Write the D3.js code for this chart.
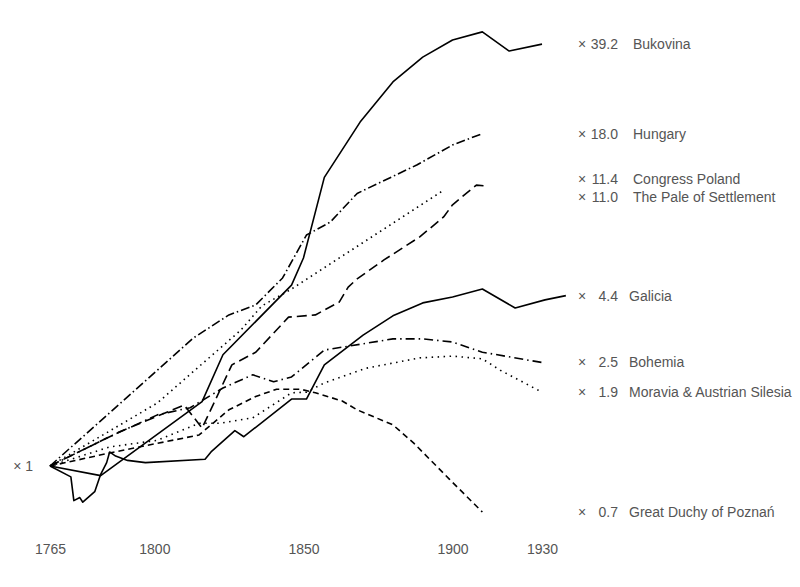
<!doctype html>
<html>
<head>
<meta charset="utf-8">
<script src="https://d3js.org/d3.v7.min.js"></script>
<style>
  body { margin: 0; background: #fff; }
  svg { font-family: "Liberation Sans", Arial, sans-serif; }
  .axis path.domain { stroke: none; }
  .axis text { font-size: 14px; fill: #555; }
  .label { font-size: 14px; fill: #555; }
</style>
</head>
<body>
<svg id="chart" width="800" height="587"></svg>
<script>
// growth of each region relative to 1765 (x 1 = 1765 level), [year, multiple]
var bukovina = [[1765,1],[1782,0.92],[1816,1.75],[1823,2.63],[1846,4.82],[1850,6.10],[1857,12.3],
  [1869,19.9],[1880,28.2],[1890,35.0],[1900,40.6],[1910,43.6],[1919,36.9],[1930,39.2]];
var hungary = [[1765,1],[1801,2.30],[1813,3.04],[1825,3.72],[1834,4.06],[1843,5.13],[1851,7.45],
  [1859,8.34],[1868,10.7],[1888,13.7],[1900,16.3],[1910,18.0]];
var congressPoland = [[1765,1],[1788,1.34],[1810,1.70],[1816,1.39],[1826,2.41],[1834,2.69],[1845,3.65],
  [1854,3.72],[1862,4.16],[1865,4.74],[1868,5.09],[1877,6.00],[1889,7.33],[1897,8.72],[1900,9.69],
  [1905,10.8],[1908,11.5],[1912,11.4]];
var pale = [[1765,1],[1801,1.73],[1829,3.26],[1836,4.02],[1846,4.66],[1897,11.0]];
var galicia = [[1765,1],[1772,0.91],[1773,0.74],[1775,0.76],[1776,0.73],[1780,0.80],[1782,0.93],
  [1784,1.03],[1785,1.13],[1787,1.09],[1791,1.05],[1797,1.03],[1817,1.06],[1819,1.13],[1827,1.36],
  [1830,1.29],[1846,1.79],[1851,1.79],[1857,2.41],[1870,3.12],[1880,3.69],[1890,4.13],[1900,4.35],
  [1910,4.66],[1921,3.95],[1931,4.24],[1938,4.4]];
var bohemia = [[1765,1],[1785,1.29],[1801,1.56],[1812,1.66],[1823,1.97],[1833,2.21],[1840,2.08],
  [1846,2.17],[1857,2.74],[1863,2.81],[1880,3.02],[1890,3.02],[1900,2.94],[1910,2.69],[1930,2.46]];
var moravia = [[1765,1],[1785,1.18],[1801,1.25],[1815,1.45],[1822,1.45],[1833,1.52],[1846,1.89],
  [1851,1.90],[1857,2.06],[1871,2.34],[1889,2.56],[1900,2.60],[1910,2.54],[1916,2.30],[1930,1.90]];
var poznan = [[1765,1],[1785,1.12],[1815,1.31],[1825,1.63],[1834,1.83],[1841,1.95],[1849,1.95],
  [1854,1.89],[1863,1.76],[1868,1.63],[1880,1.43],[1887,1.22],[1899,0.89],[1910,0.67]];

var regionNames = ["Bukovina", "Hungary", "Congress Poland", "The Pale of Settlement", "Galicia",
  "Bohemia", "Moravia & Austrian Silesia", "Great Duchy of Poznań"];
var xTicks = [1765, 1800, 1850, 1900, 1930];
var yTicks = [1];

var seriesData = [bukovina, hungary, congressPoland, pale, galicia, bohemia, moravia, poznan];
// line styles, same order as regionNames
var dashes = [null, "9,3,1.5,3", "10,5", "1.5,4", null, "9,4,1.5,4", "1.5,4.5", "6,4"];

var svg = d3.select("#chart");

var xScale = d3.scaleLinear().domain([1765, 1930]).range([50, 542]);
var yScale = d3.scaleLog().domain([1, 40]).range([466, 466 - 115 * Math.log(40)]);

var xAxis = d3.axisBottom(xScale).tickValues(xTicks).tickSize(0).tickPadding(8).tickFormat(d3.format("d"));
svg.append("g").attr("class", "axis").attr("transform", "translate(0,536)").call(xAxis);

var yAxis = d3.axisLeft(yScale).tickValues(yTicks).tickSize(0).tickPadding(3).tickFormat(d => "× " + d);
svg.append("g").attr("class", "axis").attr("transform", "translate(36,0)").call(yAxis);

var line = d3.line()
  .x(d => xScale(d[0]))
  .y(d => yScale(d[1]));

svg.selectAll("path.region")
  .data(seriesData)
  .enter()
  .append("path")
    .attr("class", "region")
    .attr("d", line)
    .attr("fill", "none")
    .attr("stroke", "#000")
    .attr("stroke-width", 1.6)
    .attr("stroke-linejoin", "round")
    .attr("stroke-dasharray", (d, i) => dashes[i]);

// end labels, pushed apart where they would collide
var labels = seriesData.map((s, i) => {
  var last = s[s.length - 1][1];
  return { name: regionNames[i], value: last, y: yScale(last) };
});
var sorted = labels.slice().sort((a, b) => a.y - b.y);
for (var k = 1; k < sorted.length; k++) {
  var gap = sorted[k].y - sorted[k - 1].y;
  if (gap < 18) {
    var shift = (18 - gap) / 2;
    sorted[k - 1].y -= shift;
    sorted[k].y += shift;
  }
}

var lab = svg.selectAll("g.lab")
  .data(labels)
  .enter()
  .append("g")
    .attr("class", "lab")
    .attr("transform", d => "translate(0," + d.y + ")");

lab.append("text").attr("class", "label").attr("x", 578).attr("dy", "0.35em").text("×");
lab.append("text").attr("class", "label").attr("x", 618).attr("dy", "0.35em")
  .attr("text-anchor", "end").text(d => d.value.toFixed(1));
lab.append("text").attr("class", "label").attr("x", d => d.value >= 10 ? 633 : 629)
  .attr("dy", "0.35em").text(d => d.name);
</script>
</body>
</html>
